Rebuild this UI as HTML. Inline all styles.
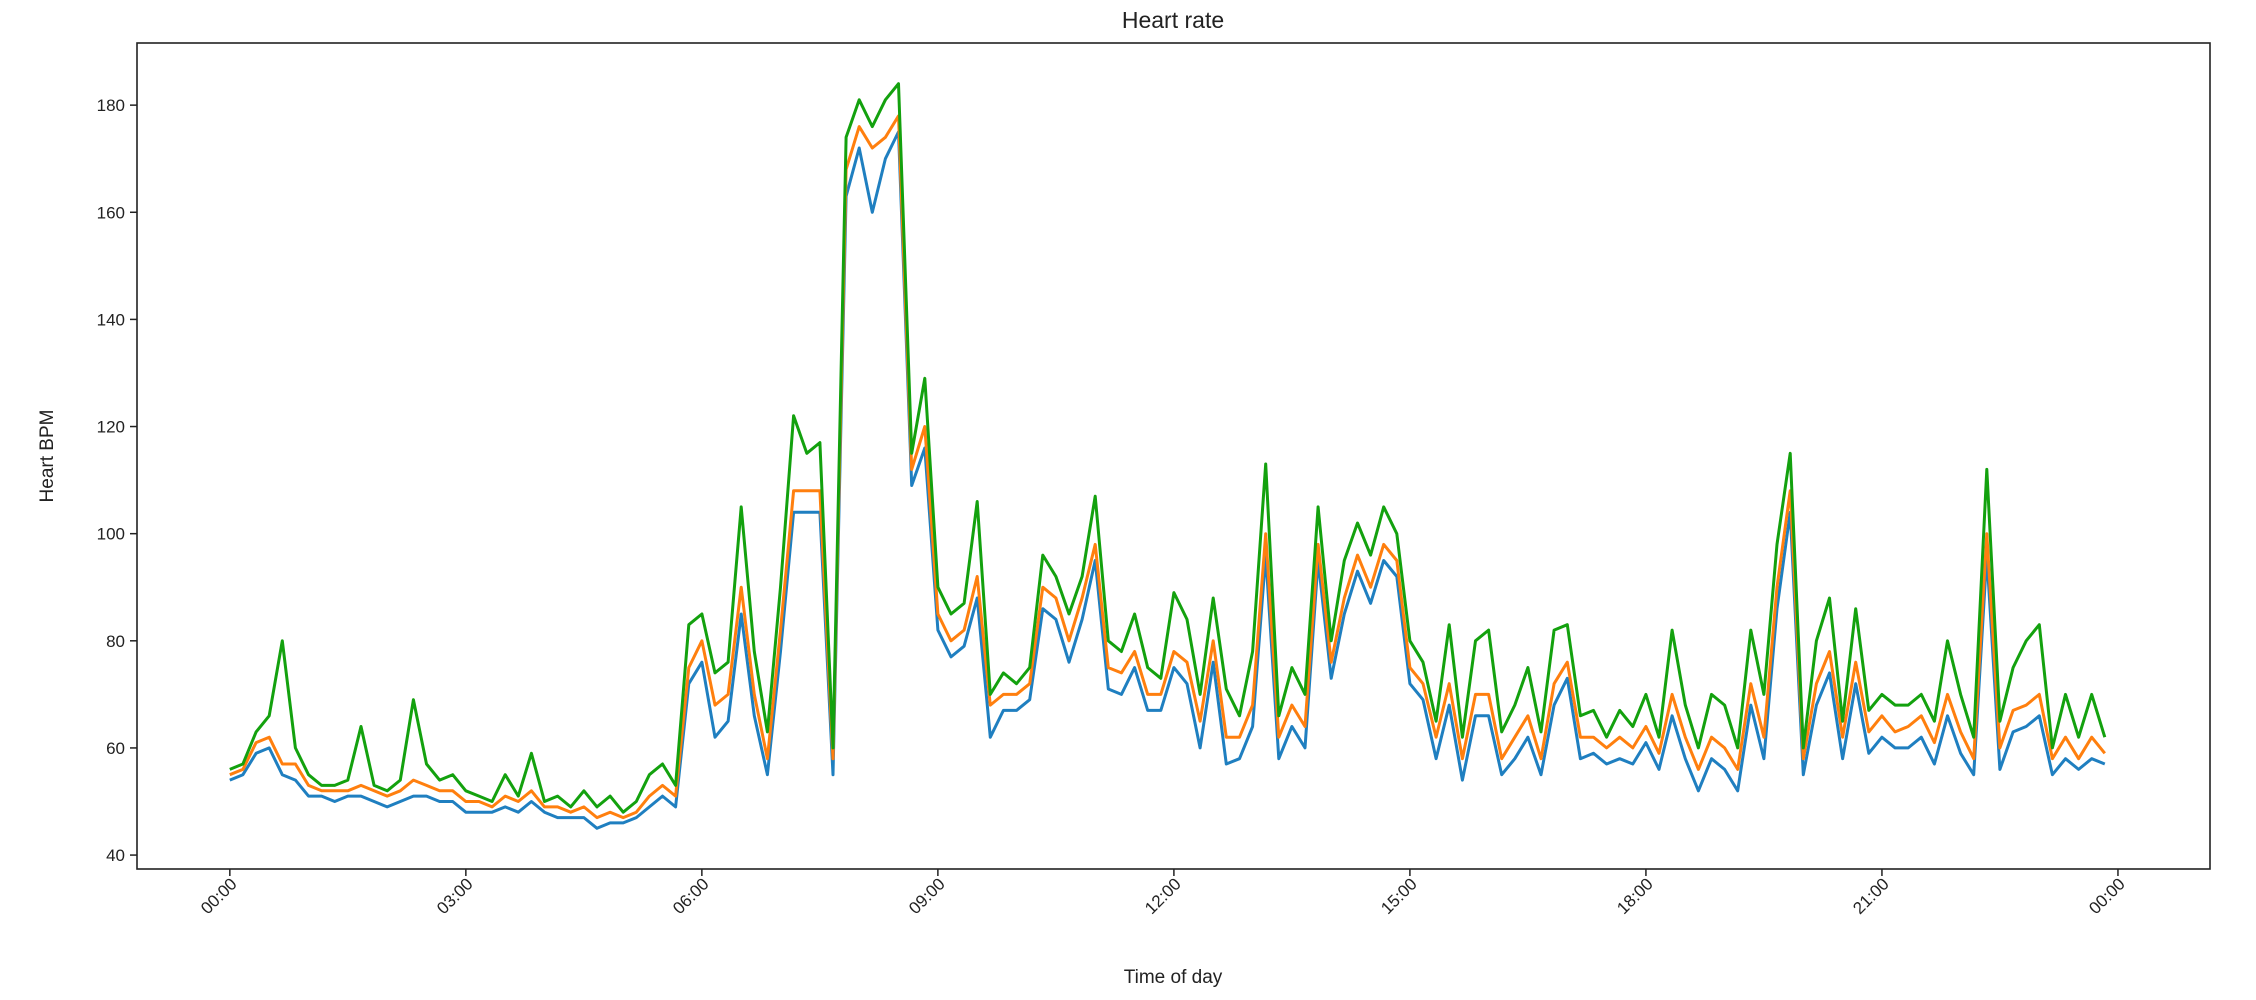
<!DOCTYPE html>
<html><head><meta charset="utf-8"><style>body{margin:0;background:#fff}svg{display:block}text{font-family:"Liberation Sans",sans-serif;fill:#222}</style></head>
<body>
<svg id="chart" width="2256" height="1000">
<rect x="137" y="43" width="2073" height="826" fill="#fff" stroke="#222" stroke-width="1.6"/>
<text x="1173" y="28" font-size="23" text-anchor="middle">Heart rate</text>
<text x="1173" y="983" font-size="19" text-anchor="middle">Time of day</text>
<text transform="translate(53,456) rotate(-90)" font-size="19" text-anchor="middle">Heart BPM</text>
<g id="axes"></g><g id="lines"></g>
</svg>
<script>
const yTicks=[40,60,80,100,120,140,160,180];
const xTickHours=[0,3,6,9,12,15,18,21,24];
const xTickLabels=["00:00","03:00","06:00","09:00","12:00","15:00","18:00","21:00","00:00"];
const stepMinutes=10;
const maxSeries=[56,57,63,66,80,60, 55,53,53,54,64,53, 52,54,69,57,54,55, 52,51,50,55,51,59, 50,51,49,52,49,51, 48,50,55,57,53,83, 85,74,76,105,78,63, 90,122,115,117,60,174, 181,176,181,184,115,129, 90,85,87,106,70,74, 72,75,96,92,85,92, 107,80,78,85,75,73, 89,84,70,88,71,66, 78,113,66,75,70,105, 80,95,102,96,105,100, 80,76,65,83,62,80, 82,63,68,75,63,82, 83,66,67,62,67,64, 70,62,82,68,60,70, 68,60,82,70,98,115, 60,80,88,65,86,67, 70,68,68,70,65,80, 70,62,112,65,75,80, 83,60,70,62,70,62];
const meanSeries=[55,56,61,62,57,57, 53,52,52,52,53,52, 51,52,54,53,52,52, 50,50,49,51,50,52, 49,49,48,49,47,48, 47,48,51,53,51,75, 80,68,70,90,70,58, 82,108,108,108,58,168, 176,172,174,178,112,120, 85,80,82,92,68,70, 70,72,90,88,80,88, 98,75,74,78,70,70, 78,76,65,80,62,62, 68,100,62,68,64,98, 76,88,96,90,98,95, 75,72,62,72,58,70, 70,58,62,66,58,72, 76,62,62,60,62,60, 64,59,70,62,56,62, 60,56,72,62,90,108, 58,72,78,62,76,63, 66,63,64,66,61,70, 63,58,100,60,67,68, 70,58,62,58,62,59];
const minSeries=[54,55,59,60,55,54, 51,51,50,51,51,50, 49,50,51,51,50,50, 48,48,48,49,48,50, 48,47,47,47,45,46, 46,47,49,51,49,72, 76,62,65,85,66,55, 78,104,104,104,55,163, 172,160,170,175,109,116, 82,77,79,88,62,67, 67,69,86,84,76,84, 95,71,70,75,67,67, 75,72,60,76,57,58, 64,96,58,64,60,95, 73,85,93,87,95,92, 72,69,58,68,54,66, 66,55,58,62,55,68, 73,58,59,57,58,57, 61,56,66,58,52,58, 56,52,68,58,86,104, 55,68,74,58,72,59, 62,60,60,62,57,66, 59,55,96,56,63,64, 66,55,58,56,58,57];
const NS="http://www.w3.org/2000/svg";
const L=137,R=2210,T=43,B=869,xMin=-1.18,xMax=25.17,yMin=37.4,yMax=191.6;
function xs(h){return L+(h-xMin)/(xMax-xMin)*(R-L);}
function ys(v){return B-(v-yMin)/(yMax-yMin)*(B-T);}
const axes=document.getElementById('axes'),lines=document.getElementById('lines');
yTicks.forEach(v=>{
 const t=document.createElementNS(NS,'line');
 t.setAttribute('x1',L-7);t.setAttribute('x2',L);t.setAttribute('y1',ys(v));t.setAttribute('y2',ys(v));t.setAttribute('stroke','#222');t.setAttribute('stroke-width','1.5');
 
 
 axes.appendChild(t);
 const s=document.createElementNS(NS,'text');
 s.setAttribute('x',L-12);s.setAttribute('y',ys(v)+6);s.setAttribute('font-size','17');s.setAttribute('text-anchor','end');s.textContent=v;
 
 
 axes.appendChild(s);
});
xTickHours.forEach((h,i)=>{
 const x=xs(h);
 const t=document.createElementNS(NS,'line');
 t.setAttribute('x1',x);t.setAttribute('x2',x);t.setAttribute('y1',B);t.setAttribute('y2',B+7);t.setAttribute('stroke','#222');t.setAttribute('stroke-width','1.5');
 
 
 axes.appendChild(t);
 const s=document.createElementNS(NS,'text');
 s.setAttribute('font-size','17');s.setAttribute('text-anchor','end');
 s.setAttribute('transform','translate('+(x+8)+','+(B+16)+') rotate(-45)');
 s.textContent=xTickLabels[i];
 
 
 axes.appendChild(s);
});
function draw(arr,color,name){
 const pts=arr.map((v,i)=>xs(i*stepMinutes/60).toFixed(1)+','+ys(v).toFixed(1)).join(' ');
 const p=document.createElementNS(NS,'polyline');
 p.setAttribute('points',pts);p.setAttribute('fill','none');p.setAttribute('stroke',color);p.setAttribute('stroke-width','3');p.setAttribute('stroke-linejoin','round');
 
 
 lines.appendChild(p);
}
draw(minSeries,'#1f7fc0','min-heart-rate-line');
draw(meanSeries,'#ff7f0e','mean-heart-rate-line');
draw(maxSeries,'#13a10e','max-heart-rate-line');
</script>
</body></html>
